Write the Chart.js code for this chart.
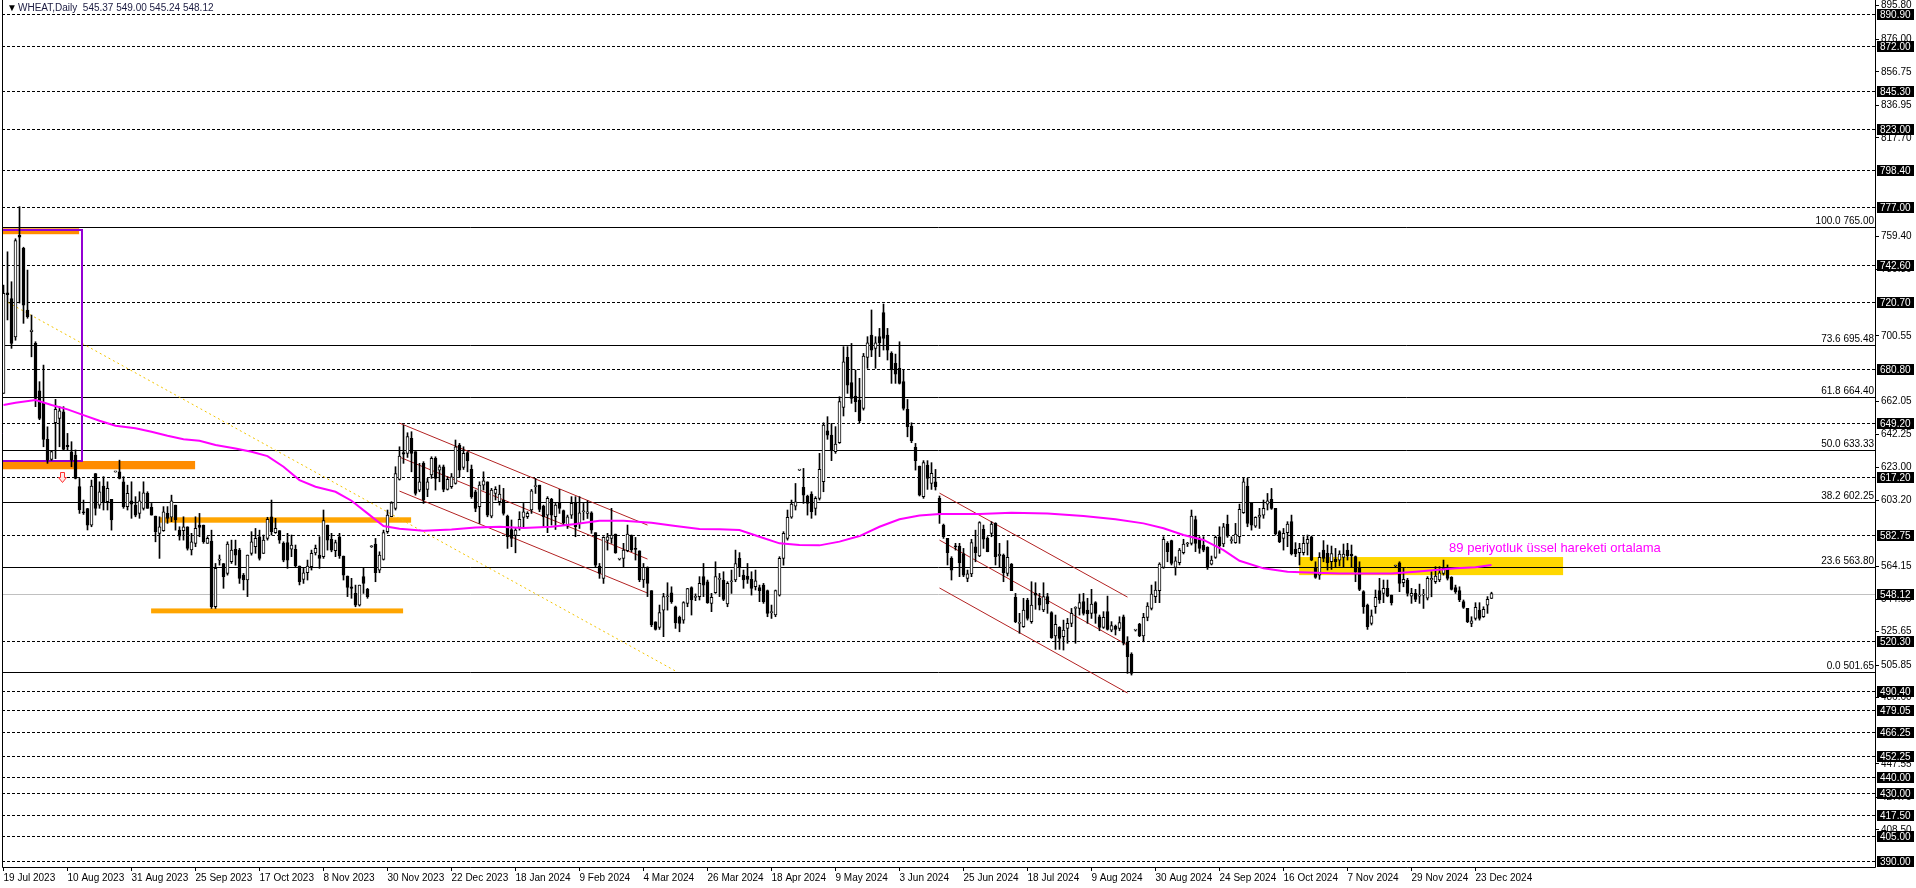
<!DOCTYPE html>
<html lang="tr">
<head>
<meta charset="UTF-8">
<title>WHEAT, Daily</title>
<script src="https://cdn.jsdelivr.net/npm/chart.js"></script>
<style>
  html, body { margin: 0; padding: 0; background: #ffffff; overflow: hidden; }
  canvas { display: block; }
</style>
</head>
<body>
<canvas id="chart" width="1916" height="888"></canvas>
<script>
// tick labels on the time axis, one every 16 bars
const tickLabels = ['19 Jul 2023', '10 Aug 2023', '31 Aug 2023', '25 Sep 2023', '17 Oct 2023', '8 Nov 2023',
  '30 Nov 2023', '22 Dec 2023', '18 Jan 2024', '9 Feb 2024', '4 Mar 2024', '26 Mar 2024', '18 Apr 2024',
  '9 May 2024', '3 Jun 2024', '25 Jun 2024', '18 Jul 2024', '9 Aug 2024', '30 Aug 2024', '24 Sep 2024',
  '16 Oct 2024', '7 Nov 2024', '29 Nov 2024', '23 Dec 2024'];

// daily candles
const opens = [
  666.6, 726, 722.7, 700, 760, 752.3, 715.8, 703, 696.1, 668.1,
  661, 639.4, 627.5, 649.2, 651.8, 655.7, 635.9, 632, 630.1, 611.4,
  596.6, 598.5, 588.7, 619.2, 600.5, 611.8, 602.5, 603.9, 620.2, 620.2,
  614.3, 599.6, 603.1, 600.5, 595.6, 598.6, 607.4, 599.2, 594, 583.8,
  585.4, 595.6, 593.3, 600.5, 585.7, 585.4, 587.7, 574, 577.9, 588.7,
  588.7, 577.9, 579.2, 540.4, 568, 566, 560.1, 567, 574.3, 573.9,
  559.1, 556.2, 571.9, 576, 581.8, 571.9, 580.8, 593.6, 584.2, 585.4,
  577.9, 578.3, 574.5, 574.3, 564.5, 556.6, 560.5, 564.1, 572.3, 571,
  570, 588.7, 580.2, 573.5, 581.8, 570.4, 558.6, 552.2, 548.3, 541.4,
  558.2, 550.7, 575.9, 577.5, 562.1, 568.4, 584.8, 593.6, 598.6, 615.7,
  631.5, 631.1, 640, 632.1, 609.4, 625.2, 609.8, 618.3, 628.1, 621.2,
  623.2, 609.8, 611.4, 613.3, 636, 622.8, 631.5, 621.6, 608.4, 599.6,
  612.3, 614.3, 594, 607.4, 602.5, 603.5, 594, 586.1, 582.6, 587.3,
  593.2, 593.6, 597.6, 611.4, 612.3, 599.9, 594.6, 603.9, 593.6, 601.5,
  597.2, 588.7, 594.6, 601.5, 589.7, 596.6, 595.6, 596, 584.2, 564.5,
  557.2, 579.6, 580.8, 583.4, 568.6, 569, 573.5, 582.8, 574.9, 573.5,
  556.2, 563.1, 549.9, 531.5, 528.2, 538.4, 546.3, 548.7, 540.4, 534.1,
  532.5, 542.4, 551.8, 545.9, 546.3, 558.2, 555.2, 542.4, 548.7, 556.6,
  556.2, 542, 555.2, 556.2, 569, 559.1, 558.6, 556.6, 552.2, 551.8,
  553.2, 549.9, 536.9, 535.5, 547.3, 569, 580.8, 593.3, 599.9, 621.2,
  611, 605.9, 607, 598.6, 604.5, 614.3, 644.5, 641.9, 632.1, 637.4,
  658.3, 687.9, 672.9, 665, 662.6, 657.7, 687.9, 701.1, 693.2, 700.1,
  714.3, 701.1, 690.2, 684.3, 681.4, 673.5, 657.1, 647.3, 634.7, 623.6,
  605.5, 624.2, 613.3, 614.3, 604.5, 588.7, 580.8, 569, 576, 576.3,
  571.9, 557.2, 559.8, 575.9, 570.4, 586.2, 580.8, 583.8, 589.7, 570.4,
  571, 560.1, 565.6, 545.9, 530.6, 528.6, 544.4, 531.6, 548.3, 545.4,
  538.5, 546.4, 536.9, 523.1, 528.2, 522.7, 527.6, 530.6, 539.4, 539.4,
  543.4, 538.5, 536.5, 542.8, 534.5, 528.2, 537.5, 526.6, 529, 527.6,
  534.5, 519.7, 512.4, 526.6, 530.2, 523.1, 534.1, 539.4, 546.4, 549.9,
  563.7, 577.9, 579.5, 563.7, 566.4, 572.4, 577.5, 577.9, 592, 580.3,
  576.9, 575.5, 565.6, 569.6, 581.8, 577.5, 589.3, 579.5, 578.3, 581.8,
  596, 611.8, 601.9, 588.1, 593.3, 594.6, 601.1, 603.9, 598.6, 584.8,
  580.8, 584.2, 590.7, 574.3, 572.4, 572.4, 577.9, 581.8, 563.1, 559.1,
  573.9, 572, 567, 568.4, 568, 569.6, 573.9, 571.6, 570, 563.7,
  549.3, 541.4, 530.6, 540.4, 549.9, 548.3, 551.3, 547.3, 564.5, 566.4,
  554.6, 556.2, 546.7, 548.3, 546.7, 547.3, 545.4, 556.2, 555.2, 556.2,
  560.1, 563.1, 557.8, 551.8, 549.9, 543.4, 539.4, 530.6, 533.5, 538.5,
  534.5, 541.4, 545.37
];
const highs = [
  730.6, 750.3, 732.6, 758, 777, 753, 739.5, 712.9, 697.1, 673.5,
  683.3, 646.8, 632.3, 663, 658.7, 658.7, 642.9, 638, 633.1, 616.3,
  603.5, 598.6, 615.3, 619.2, 614.3, 617.3, 614.3, 603.9, 620.5, 627.1,
  617.3, 612.3, 614.3, 605.5, 608.4, 614.3, 608.4, 601.5, 594, 593.6,
  599.6, 599.6, 606.4, 600.5, 587.7, 593.6, 587.7, 583.8, 593.6, 595.6,
  588.7, 581.8, 585.7, 566, 571, 566, 578.8, 579.8, 579.8, 574.9,
  560.1, 571, 584.8, 586.7, 585.7, 582.8, 593.3, 603.5, 592.7, 585.4,
  578.8, 583.8, 582.8, 576.9, 564.5, 563.1, 568, 573.9, 576.9, 581.8,
  597.6, 588.7, 583.8, 579.8, 583.8, 570.4, 558.6, 557.2, 553.2, 553.2,
  563.1, 551.3, 576.5, 580.8, 572.9, 585.7, 597.6, 602.5, 623.2, 635,
  647.8, 643.3, 643.9, 632.1, 625.2, 626.2, 616.3, 629.1, 629.1, 624.2,
  624.2, 617.3, 619.2, 639, 637, 635, 632.1, 624.2, 609.4, 614.3,
  620.2, 614.3, 610.4, 611.4, 612.3, 610.4, 594.6, 591.7, 586.7, 596.6,
  601.5, 596.6, 609.8, 616.3, 612.3, 600.5, 605.5, 604.5, 601.5, 609.8,
  597.6, 594.6, 605.5, 605.5, 605.5, 601.5, 603.1, 596.6, 584.2, 566,
  581.8, 583.8, 598.6, 583.4, 569, 577.9, 588.7, 582.8, 581.4, 573.5,
  566, 564, 549.9, 531.5, 541.4, 548.3, 554.6, 552.2, 540.8, 534.9,
  543.4, 551.3, 552.2, 548, 558.2, 566, 556.2, 548.3, 567, 560.1,
  561.1, 555.2, 562.1, 573.9, 572.4, 562.1, 566, 561.1, 562.1, 553.2,
  554.2, 550.3, 541.4, 550.3, 570, 584.8, 597.6, 603.5, 613.3, 621.5,
  622.2, 606.4, 608.4, 605.5, 631.1, 649.2, 652.8, 648.8, 646.9, 664.6,
  694.2, 694.2, 696.1, 680.4, 675.5, 690.2, 700.1, 715.9, 700.1, 705,
  719.4, 705, 691.2, 689.8, 697.1, 680.4, 663, 649.2, 637, 623.6,
  626.8, 626.8, 625.6, 621.6, 605.9, 589.3, 580.8, 570, 577.9, 577.9,
  574.9, 562.1, 580.3, 585.7, 590.7, 588.7, 581.8, 590.7, 590.1, 577.9,
  571.6, 579.5, 566, 548.3, 536.5, 545.4, 545.4, 555.2, 554.6, 548.3,
  554.6, 548.3, 537.5, 535.5, 528.6, 532.5, 533.5, 539.4, 540.4, 547.9,
  548.3, 545.4, 550.7, 543.4, 535.5, 537.5, 546.7, 531.6, 529.6, 534.5,
  535.5, 522.7, 513.2, 527, 530.6, 536.5, 542.8, 553.2, 555.2, 566.4,
  581.8, 578.9, 579.8, 569.9, 574.9, 580.3, 578.5, 597.6, 594, 581.8,
  581.8, 575.9, 570.4, 582.2, 587.7, 589.7, 594.6, 581.8, 589.7, 601.1,
  616.3, 616.3, 601.9, 593.6, 598.6, 603.5, 607.4, 610.4, 598.6, 585.4,
  586.7, 590.7, 594.6, 578.3, 577.9, 581.8, 582.8, 582.2, 567, 572.4,
  579.5, 576.9, 576.3, 574.9, 573.5, 577.5, 577.9, 576.9, 570.4, 567,
  549.9, 542, 538.5, 550.3, 557.2, 556.2, 556.2, 547.3, 565, 567,
  563.1, 557.2, 551.3, 550.7, 553.8, 550.7, 558.2, 561.1, 564.1, 564.1,
  568, 565.1, 558.2, 553.2, 552.2, 544.4, 539.4, 534.5, 542.8, 542.8,
  540.4, 546.4, 549.0
];
const lows = [
  666.6, 710, 693.2, 698, 720, 708, 711, 688.2, 658.7, 651,
  635, 625.2, 627, 628, 635, 633, 633, 623.2, 616, 595.6,
  595, 585.8, 587.7, 594.6, 598.6, 597.6, 597.6, 585.7, 620, 616,
  598.6, 597.6, 592.7, 593.6, 592.7, 597.6, 598.6, 594.6, 578.8, 569,
  585, 589.7, 590.7, 585.7, 579.8, 579.8, 573.9, 571, 575.9, 581.8,
  577.9, 577.9, 539.4, 539.4, 565, 551.3, 559.1, 566, 565, 554.2,
  550.3, 546.4, 570.9, 572, 568, 571.9, 579.8, 582.8, 583.8, 577.9,
  567, 563.1, 570, 564, 553.3, 554.2, 556.2, 562.1, 571, 563.1,
  569, 573.9, 572.9, 570, 569, 556.2, 546.4, 545.4, 540.4, 540.8,
  548.3, 545.4, 575.5, 555.2, 560.5, 568, 583.8, 593.6, 597.6, 615.3,
  625.2, 628.7, 620.2, 606.4, 608.4, 601.5, 605.5, 616.3, 609.4, 614.3,
  608.4, 609.4, 610.4, 612.9, 617.3, 621.6, 620.2, 604.5, 596.6, 589.7,
  609.4, 593.6, 593, 603.5, 600.5, 594.6, 574.9, 575.9, 572.3, 585.7,
  587.7, 592.6, 595.6, 607.4, 596.6, 587.7, 584.2, 588.7, 586.1, 595.6,
  588.7, 586.7, 592.6, 581.8, 586.7, 591.7, 592.6, 583.8, 564, 557.2,
  554.2, 573.9, 577.9, 572, 568, 564, 572.9, 572.9, 568, 555.2,
  551.8, 546.4, 528.6, 526.6, 527, 522.7, 538.4, 542.4, 527.6, 525.6,
  530.6, 540.4, 535.5, 544, 544.4, 546.4, 542.4, 537.5, 548.3, 546.4,
  544, 540.4, 548.3, 555.2, 558.2, 551.3, 554.2, 547.3, 550.3, 543.4,
  542.4, 534.5, 533.5, 534.5, 546.7, 565, 579.8, 592.7, 597.6, 621,
  601.5, 594.6, 592.7, 594.6, 603.5, 608.4, 639.4, 626.8, 631.1, 637,
  653.2, 666.6, 660.7, 655.7, 649.2, 656.7, 681.4, 688.3, 681.4, 688.3,
  692.2, 686.3, 672.5, 672.5, 672.1, 656.7, 640.9, 637.4, 621.2, 605.9,
  604.5, 609.8, 609.8, 609.4, 589.7, 580.8, 565.1, 556.2, 573.9, 558.2,
  558.2, 555.2, 558.2, 567, 570, 574.9, 572.9, 581.8, 565.1, 564.1,
  555.2, 558.6, 549.9, 531, 524.7, 528.2, 532.5, 530.6, 538.9, 538.5,
  537.5, 536.5, 521.7, 515.2, 515.2, 514.8, 518.8, 528.6, 518.8, 535.5,
  535.5, 530.6, 533.5, 530.6, 526.2, 527.6, 526.6, 525.6, 523.7, 526.2,
  517.8, 501, 500, 526, 522.7, 519.7, 532.1, 538.5, 542.8, 542.8,
  563.1, 567, 565.1, 559.1, 565.1, 571.6, 576, 576.9, 573, 572,
  572.9, 562.5, 565.1, 569, 572, 575.9, 581.4, 577.9, 577.9, 577.9,
  595.6, 587.7, 585.7, 587.3, 586.7, 592.7, 597.6, 598, 582.8, 578.3,
  573.9, 575.9, 571, 570, 565.1, 571, 571, 567.6, 557.2, 556.6,
  567, 562.1, 562.5, 564.1, 564.5, 564.1, 568, 564.1, 555.2, 549.9,
  536.5, 527, 529.6, 536.5, 542.4, 542.8, 546.3, 541.4, 564, 549.3,
  552.2, 546.7, 542.4, 543.4, 542.4, 539.4, 544.4, 546.3, 554.2, 555.2,
  559.1, 556.2, 550.3, 548.3, 543.4, 539.4, 531, 528.6, 532.5, 532.5,
  534.1, 536.5, 545.24
];
const closes = [
  725.7, 725, 696.1, 757, 759, 718.8, 711.9, 704, 663.6, 651.8,
  639.4, 627.1, 632.1, 657.1, 656.3, 633.4, 635, 627.1, 616.3, 597.6,
  596, 588.7, 611.8, 598.6, 608.4, 602, 610.4, 591.7, 620.2, 616.3,
  599.6, 607.4, 601.1, 594.6, 603.1, 607.8, 598.6, 594.6, 584.8, 587.7,
  596.6, 592.7, 603.1, 591.7, 582.2, 587.7, 574.9, 578.8, 586.7, 587.3,
  578.9, 580.8, 540.4, 563.1, 568, 558.2, 577.5, 573.9, 570.9, 557.2,
  556.2, 570.9, 578.8, 580.8, 569, 579.8, 592.1, 584.8, 586.7, 579.8,
  568, 568, 576.9, 564.5, 555.2, 560.5, 564.5, 572, 574.9, 569,
  591.3, 579.8, 573.9, 578.3, 570.4, 559.1, 551.8, 551.3, 541.4, 553.2,
  554.2, 546.4, 575.9, 560.5, 571, 584.2, 594.6, 601.9, 619.2, 629.5,
  630.7, 641, 631.1, 607.4, 614.3, 603.5, 614.3, 628.1, 616.3, 623.2,
  609.8, 615.7, 617.3, 635, 621.2, 631.1, 626.7, 605.5, 598.6, 612.3,
  614.9, 594.6, 609.4, 609.8, 607, 595.6, 581.8, 580.8, 585.7, 592.1,
  596.6, 595.6, 609, 611.4, 598, 593.6, 604.5, 594.6, 600.5, 598.6,
  590.1, 593.6, 601.5, 587.7, 596, 596.6, 596.6, 585.7, 565, 560.1,
  581.4, 581.8, 582.8, 572.3, 568.6, 573.9, 583.4, 574, 574.3, 556.2,
  563.7, 554.2, 529.6, 527, 536.9, 546.4, 546.4, 543.4, 530.9, 530.6,
  542.8, 551.1, 544.4, 545.9, 554.2, 553.2, 542.8, 545.9, 558.2, 556.6,
  544.8, 554.2, 555.2, 566, 564.1, 556.2, 556.6, 551.3, 555.8, 549.9,
  543.4, 536.5, 536.9, 549.9, 569, 583.8, 593.3, 601.1, 602.5, 621.2,
  606.4, 601.5, 596.6, 604.5, 621.6, 647.9, 641.9, 633.1, 636.6, 661.7,
  685.3, 671.5, 663.6, 661.7, 650.4, 688.6, 696.5, 692.2, 696.5, 696.5,
  699.1, 692.2, 680.4, 678, 672.5, 657.7, 646.9, 638.6, 626.8, 606.4,
  625.6, 616.3, 619.3, 611.4, 595.2, 581.8, 572.4, 562.1, 575.9, 566.4,
  559.1, 559.8, 578.3, 572.4, 590.1, 580.3, 572.9, 589.3, 570, 571.6,
  560.5, 569.6, 549.9, 531.6, 530.6, 538.5, 533.5, 541.4, 547.3, 541.4,
  546.4, 542, 522.1, 530, 521.7, 526.6, 530.6, 536.5, 539.4, 542.8,
  536.5, 536.1, 542, 536.5, 528.2, 534.1, 527, 529.2, 527, 531,
  518.8, 510.9, 501, 526.6, 523.1, 534.1, 540.8, 547.9, 550.3, 565.6,
  580.3, 572.9, 566, 567.6, 573.9, 577.5, 577.5, 594, 577.9, 574.9,
  573.9, 564.1, 568, 581.4, 576.3, 587.7, 582.2, 579.5, 583.4, 598,
  614.3, 589.7, 588.7, 593.3, 594.6, 598.6, 603.1, 598.6, 583.4, 578.9,
  583.8, 589.3, 571.6, 571.6, 574.9, 577.9, 580.3, 568, 557.8, 569.6,
  569, 566.4, 571.9, 567, 571.6, 571.6, 570.4, 570.4, 561.1, 550.7,
  540.4, 528.6, 535, 545.9, 544.4, 551.3, 546.7, 542.8, 564.5, 554.2,
  556.6, 548.3, 548.3, 544.8, 546.7, 547.3, 557.2, 557.2, 558.6, 560.5,
  563.1, 557.2, 550.7, 549.3, 544.4, 540, 531.6, 532.1, 540, 533.5,
  538.9, 544.8, 548.12
];

// 89-period EMA, sampled off the chart (bar index / value)
const emaIdx = [0, 3, 8, 12, 16, 20, 24, 28, 33, 37, 41, 45, 49, 53, 58, 62, 66, 70, 74, 78,
  83, 87, 91, 95, 99, 105, 112, 118, 124, 130, 137, 143, 149, 155, 162, 168, 174, 179, 184, 189,
  194, 199, 204, 209, 214, 219, 224, 229, 234, 239, 244, 252, 261, 270, 278, 285, 290, 295, 300, 305,
  309, 315, 321, 328, 334, 340, 347, 353, 358, 363, 368, 372];
const emaVal = [659.7, 661.0, 662.6, 659.7, 657.1, 653.7, 650.4, 647.4, 645.9, 643.9, 641.5, 639.4, 638.6, 636.0, 634.0, 632.1, 629.5, 623.2, 615.3, 611.4,
  608.4, 603.1, 595.6, 588.1, 586.5, 585.3, 586.1, 587.3, 587.7, 586.9, 587.7, 589.3, 591.3, 591.3, 590.1, 588.1, 586.4, 586.2, 585.8, 581.8,
  577.9, 576.9, 576.7, 578.9, 582.2, 587.7, 592.1, 594.4, 595.2, 595.2, 595.2, 596.0, 595.6, 594.0, 592.1, 589.7, 586.8, 582.8, 579.9, 573.9,
  567.6, 563.1, 561.1, 560.5, 560.1, 560.1, 560.1, 561.1, 562.1, 563.1, 563.7, 565.1];

// horizontal levels
const dashedLevels = [890.90, 872.00, 845.30, 823.00, 798.40, 777.00, 742.60, 720.70, 680.80, 649.20, 617.20,
  582.75, 520.30, 490.40, 479.05, 466.25, 452.25, 440.00, 430.00, 417.50, 405.00, 390.00];
const fibLevels = [765.00, 695.48, 664.40, 633.33, 602.25, 563.80, 501.65];
const fibPct = ['100.0', '73.6', '61.8', '50.0', '38.2', '23.6', '0.0'];
const bidPrice = 548.12;
const yTicks = [895.80, 876.00, 856.75, 836.95, 817.70, 759.40, 739.80, 700.55, 662.05, 642.25, 623.00,
  603.20, 564.15, 544.90, 525.65, 505.85, 486.60, 447.55, 427.75, 408.50];

// drawn objects, in bar index / price
const zones = [
  { from: -0.4, to: 18.9, hi: 764.2, lo: 760.7, color: '#ff8c00' },
  { from: -0.4, to: 47.9, hi: 626.6, lo: 621.7, color: '#ff8c00' },
  { from: 39.1, to: 101.9, hi: 593.3, lo: 590.1, color: '#ffa500' },
  { from: 36.9, to: 99.9, hi: 539.4, lo: 536.5, color: '#ffa500' },
  { from: 323.9, to: 389.9, hi: 569.8, lo: 559.1, color: '#ffd700' }
];
const purpleBox = { from: -0.4, to: 19.7, hi: 763.4, lo: 626.6 };
const trendLine = { x0: 0, y0: 721.8, x1: 168, y1: 502.4 };
const channels = [
  { x0: 99, y0: 649.0, x1: 161, y1: 588.7 },
  { x0: 99, y0: 628.9, x1: 161, y1: 568.6 },
  { x0: 99, y0: 608.8, x1: 161, y1: 548.5 },
  { x0: 234, y0: 607.6, x1: 281, y1: 546.1 },
  { x0: 234, y0: 579.8, x1: 281, y1: 517.7 },
  { x0: 234, y0: 551.5, x1: 281, y1: 489.4 }
];
const arrowAt = { x: 14.5, y: 617.0 };
const emaNote = { x: 361.4, y: 575.1, text: '89 periyotluk üssel hareketi ortalama' };
const headerText = 'WHEAT,Daily  545.37 549.00 545.24 548.12';

const FONT = "'Liberation Sans', Arial, sans-serif";

const wickData = highs.map((h, i) => ({ x: i, y: [lows[i], h] }));
const bodyData = opens.map((o, i) => ({ x: i, y: [o, closes[i]] }));
const bodyColors = opens.map((o, i) => closes[i] >= o ? '#ffffff' : '#000000');
const emaData = emaIdx.map((x, k) => ({ x: x, y: emaVal[k] }));

// no extra room for edge labels: the plot runs to the top of the canvas
function noPadding(scale) {
  scale.paddingTop = 0;
  scale.paddingBottom = 0;
  scale.paddingLeft = 0;
  scale.paddingRight = 0;
}

const overlay = {
  id: 'overlay',
  beforeDatasetsDraw(chart) {
    const { ctx, chartArea: a, scales: { x, y } } = chart;
    const py = v => Math.round(y.getPixelForValue(v)) + 0.5;
    ctx.save();
    ctx.beginPath();
    ctx.rect(a.left, a.top, a.right - a.left, a.bottom - a.top);
    ctx.clip();

    zones.forEach(z => {
      const x0 = x.getPixelForValue(z.from), x1 = x.getPixelForValue(z.to);
      const y0 = y.getPixelForValue(z.hi), y1 = y.getPixelForValue(z.lo);
      ctx.fillStyle = z.color;
      ctx.fillRect(x0, y0, x1 - x0, y1 - y0);
    });

    ctx.lineWidth = 1;
    ctx.strokeStyle = '#000000';
    ctx.setLineDash([3, 2]);
    dashedLevels.forEach(v => {
      const yy = py(v);
      ctx.beginPath(); ctx.moveTo(a.left, yy); ctx.lineTo(a.right, yy); ctx.stroke();
    });
    ctx.setLineDash([]);
    fibLevels.forEach(v => {
      const yy = py(v);
      ctx.beginPath(); ctx.moveTo(a.left, yy); ctx.lineTo(a.right, yy); ctx.stroke();
    });
    ctx.strokeStyle = '#c0c0c0';
    const by = py(bidPrice);
    ctx.beginPath(); ctx.moveTo(a.left, by); ctx.lineTo(a.right, by); ctx.stroke();

    // dotted trend line
    ctx.strokeStyle = '#f2c400';
    ctx.setLineDash([2, 3]);
    ctx.beginPath();
    ctx.moveTo(x.getPixelForValue(trendLine.x0), y.getPixelForValue(trendLine.y0));
    ctx.lineTo(x.getPixelForValue(trendLine.x1), y.getPixelForValue(trendLine.y1));
    ctx.stroke();
    ctx.setLineDash([]);

    // channels
    ctx.strokeStyle = '#b22222';
    channels.forEach(c => {
      ctx.beginPath();
      ctx.moveTo(x.getPixelForValue(c.x0), y.getPixelForValue(c.y0));
      ctx.lineTo(x.getPixelForValue(c.x1), y.getPixelForValue(c.y1));
      ctx.stroke();
    });

    // purple rectangle
    ctx.strokeStyle = '#9400d3';
    ctx.lineWidth = 2;
    const px0 = x.getPixelForValue(purpleBox.from), px1 = Math.round(x.getPixelForValue(purpleBox.to));
    const py0 = Math.round(y.getPixelForValue(purpleBox.hi)), py1 = Math.round(y.getPixelForValue(purpleBox.lo));
    ctx.strokeRect(px0, py0, px1 - px0, py1 - py0);
    ctx.restore();
  },
  afterDatasetsDraw(chart) {
    const { ctx, chartArea: a, scales: { x, y } } = chart;
    ctx.save();
    // fibo labels
    ctx.fillStyle = '#000000';
    ctx.font = '10px ' + FONT;
    ctx.textAlign = 'right';
    ctx.textBaseline = 'alphabetic';
    fibLevels.forEach((v, k) => {
      ctx.fillText(fibPct[k] + ' ' + v.toFixed(2), a.right - 1, Math.round(y.getPixelForValue(v)) - 3);
    });

    // EMA note
    ctx.fillStyle = '#ff00ff';
    ctx.font = '13px ' + FONT;
    ctx.textAlign = 'left';
    ctx.textBaseline = 'middle';
    ctx.fillText(emaNote.text, x.getPixelForValue(emaNote.x), y.getPixelForValue(emaNote.y));

    // sell arrow
    const ax = Math.round(x.getPixelForValue(arrowAt.x)) + 0.5;
    const ay = Math.round(y.getPixelForValue(arrowAt.y)) + 0.5;
    ctx.strokeStyle = '#ff3030';
    ctx.fillStyle = '#ffe8e8';
    ctx.lineWidth = 1;
    ctx.beginPath();
    ctx.moveTo(ax - 2, ay - 5); ctx.lineTo(ax + 2, ay - 5); ctx.lineTo(ax + 2, ay);
    ctx.lineTo(ax + 4, ay); ctx.lineTo(ax, ay + 5); ctx.lineTo(ax - 4, ay);
    ctx.lineTo(ax - 2, ay); ctx.closePath();
    ctx.fill(); ctx.stroke();

    // header
    ctx.font = '10px ' + FONT;
    ctx.textBaseline = 'middle';
    ctx.fillStyle = '#000000';
    ctx.fillText('\u25BC', a.left + 5, 8);
    ctx.fillStyle = '#1a1a40';
    ctx.fillText(headerText, a.left + 16, 8);
    ctx.restore();
  },
  afterDraw(chart) {
    const { ctx, chartArea: a, scales: { y } } = chart;
    ctx.save();
    // frame
    ctx.strokeStyle = '#000000';
    ctx.lineWidth = 1;
    ctx.beginPath();
    ctx.moveTo(a.left + 0.5, 0); ctx.lineTo(a.left + 0.5, a.bottom + 0.5);
    ctx.lineTo(a.right + 0.5, a.bottom + 0.5); ctx.lineTo(a.right + 0.5, 0);
    ctx.stroke();

    // price boxes
    ctx.font = '10px ' + FONT;
    ctx.textAlign = 'left';
    ctx.textBaseline = 'middle';
    dashedLevels.concat([bidPrice]).forEach(v => {
      const yy = Math.round(y.getPixelForValue(v));
      ctx.fillStyle = '#000000';
      ctx.fillRect(a.right + 2, yy - 5, 37, 11);
      ctx.fillStyle = '#ffffff';
      ctx.fillText(v.toFixed(2), a.right + 5, yy + 1);
    });
    ctx.restore();
  }
};

new Chart(document.getElementById('chart'), {
  type: 'bar',
  data: {
    datasets: [
      {
        type: 'line',
        data: emaData,
        borderColor: '#ff00ff',
        borderWidth: 2,
        pointRadius: 0,
        tension: 0,
        order: 0
      },
      {
        data: bodyData,
        backgroundColor: bodyColors,
        borderColor: '#000000',
        borderWidth: 1,
        borderSkipped: false,
        barThickness: 3,
        minBarLength: 1,
        grouped: false,
        order: 1
      },
      {
        data: wickData,
        backgroundColor: '#000000',
        borderWidth: 0,
        barThickness: 1,
        grouped: false,
        order: 2
      }
    ]
  },
  options: {
    responsive: false,
    animation: false,
    devicePixelRatio: 1,
    events: [],
    layout: { padding: { left: 2, top: 0, right: 0, bottom: 0 } },
    plugins: { legend: { display: false }, tooltip: { enabled: false } },
    scales: {
      x: {
        type: 'linear',
        min: -0.375,
        max: 467.875,
        offset: false,
        border: { display: false },
        grid: { display: true, offset: false, drawOnChartArea: false, drawTicks: true, tickLength: 4, color: '#000000' },
        afterBuildTicks: scale => { scale.ticks = tickLabels.map((_, k) => ({ value: k * 16 })); },
        afterFit: scale => { scale.height = 21; noPadding(scale); },
        ticks: {
          autoSkip: false,
          maxRotation: 0,
          align: 'start',
          padding: 1,
          color: '#000000',
          font: { family: FONT, size: 10 },
          callback: v => tickLabels[Math.round(v / 16)]
        }
      },
      y: {
        position: 'right',
        min: 386.5,
        max: 899.2,
        border: { display: false },
        grid: { display: true, drawOnChartArea: false, drawTicks: true, tickLength: 4, color: '#000000' },
        afterBuildTicks: scale => { scale.ticks = yTicks.map(v => ({ value: v })); },
        afterFit: scale => { scale.width = 41; noPadding(scale); },
        ticks: {
          autoSkip: false,
          padding: 2,
          color: '#000000',
          font: { family: FONT, size: 10 },
          callback: v => v.toFixed(2)
        }
      }
    }
  },
  plugins: [overlay]
});
</script>
</body>
</html>
